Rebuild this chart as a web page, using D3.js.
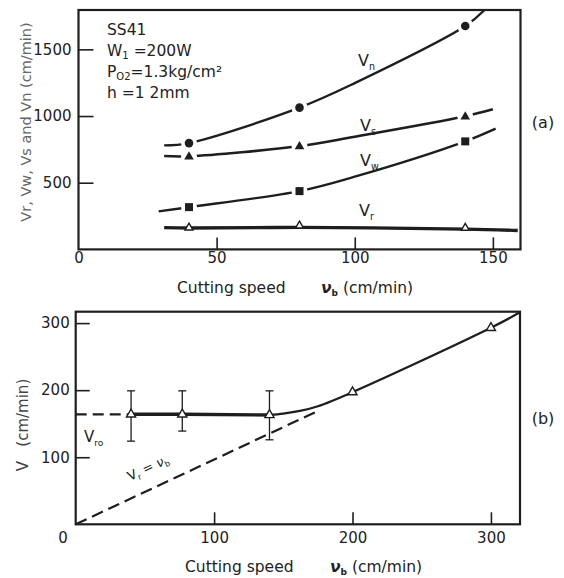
<!DOCTYPE html>
<html><head><meta charset="utf-8">
<script src="https://cdn.jsdelivr.net/npm/d3@7"></script>
<style>body{margin:0;background:#fff}svg{display:block}text{font-family:"DejaVu Sans",sans-serif;fill:#222}</style>
</head><body>
<svg id="c" width="564" height="578"></svg>
<script>
// ---- Panel (a) data ----
const topXTicks = [0, 50, 100, 150];
const topYTicks = [500, 1000, 1500];
const markX = [40, 80, 140];
const vnMarks = [797, 1063, 1675];
const vsMarks = [698, 775, 998];
const vwMarks = [317, 437, 810];
const vrMarks = [155, 170, 153];
const vnCurve = [[31,780],[40,797],[80,1063],[100,1247],[140,1675],[147,1795]];
const vsCurve = [[31,700],[40,698],[80,775],[100,845],[140,998],[150,1050]];
const vwCurve = [[29,285],[40,317],[80,437],[100,545],[140,810],[151,905]];
const vrCurve = [[31,163],[40,160],[80,165],[140,152],[159,142]];
// ---- Panel (b) data ----
const botXTicks = [100, 200, 300];
const botYTicks = [100, 200, 300];
const bX = [40, 77, 140, 200, 300];
const bY = [164, 164, 163, 197, 293];
const errX = [40, 77, 140];
const errHi = [199, 199, 199];
const errLo = [124, 139, 126];
const flatCurve = [[40,164],[77,164],[140,163]];
const riseCurve = [[140,163],[150,165],[162,169],[175,176],[200,197],[300,293],[321,316]];
const vr0Dash = [[0,164],[40,164]];
const diagDash = [[0,0],[176,170]];

const svg = d3.select("#c");
const ink = "#1e1e1e";

// scales
const x0 = d3.scaleLinear([0,160],[78.5,520.5]);
const y0 = d3.scaleLinear([0,1795],[249.4,10]);
const x1 = d3.scaleLinear([0,321],[75.7,520]);
const y1 = d3.scaleLinear([0,317],[524.3,311.7]);

function frame(x, y){
  svg.append("rect").attr("x",x.range()[0]).attr("y",y.range()[1])
    .attr("width",x.range()[1]-x.range()[0]).attr("height",y.range()[0]-y.range()[1])
    .attr("fill","none").attr("stroke",ink).attr("stroke-width",2.2);
}
function styleAxis(g){
  g.select(".domain").remove();
  g.selectAll("line").attr("stroke",ink).attr("stroke-width",1.6);
  g.selectAll("text").attr("font-size",15).attr("font-family","DejaVu Sans").attr("fill","#222");
}

// ---------- Panel (a) ----------
frame(x0,y0);
svg.append("g").attr("transform",`translate(0,${y0.range()[0]})`)
  .call(d3.axisBottom(x0).tickValues(topXTicks).tickSize(-12).tickPadding(3).tickFormat(d3.format("d")))
  .call(styleAxis).call(g=>g.selectAll(".tick").filter(d=>d===0).select("line").remove());
svg.append("g").attr("transform",`translate(${x0.range()[0]},0)`)
  .call(d3.axisLeft(y0).tickValues(topYTicks).tickSize(-15).tickPadding(7).tickFormat(d3.format("d")))
  .call(styleAxis);

const lineTop = d3.line().x(d=>x0(d[0])).y(d=>y0(d[1])).curve(d3.curveCatmullRom.alpha(0.5));
[[vnCurve,2.4],[vsCurve,2.6],[vwCurve,2.4],[vrCurve,3.4]].forEach(([c,w])=>{
  svg.append("path").attr("d",lineTop(c)).attr("fill","none").attr("stroke",ink).attr("stroke-width",w);
});
// gaps around markers
function halo(xs, ys, xs_, ys_, r){
  xs.forEach((v,i)=>svg.append("circle").attr("cx",xs_(v)).attr("cy",ys_(ys[i])).attr("r",r).attr("fill","#fff"));
}
halo(markX,vnMarks,x0,y0,8);
halo(markX,vsMarks,x0,y0,8);
halo(markX,vwMarks,x0,y0,8);
const tri = d3.symbol().type(d3.symbolTriangle);
markX.forEach((v,i)=>{
  svg.append("circle").attr("cx",x0(v)).attr("cy",y0(vnMarks[i])).attr("r",4.3).attr("fill",ink);
  svg.append("path").attr("d",tri.size(40)()).attr("transform",`translate(${x0(v)},${y0(vsMarks[i])+0.5})`).attr("fill",ink);
  svg.append("rect").attr("x",x0(v)-4).attr("y",y0(vwMarks[i])-4).attr("width",8).attr("height",8).attr("fill",ink);
  svg.append("path").attr("d",tri.size(28)()).attr("transform",`translate(${x0(v)},${y0(vrMarks[i])-1})`)
    .attr("fill","#fff").attr("stroke",ink).attr("stroke-width",1.4);
});

// series labels
function vlabel(x,y,main,sub,size){
  const t = svg.append("text").attr("x",x).attr("y",y).attr("font-size",size||16);
  t.append("tspan").text(main);
  t.append("tspan").attr("font-size",(size||16)*0.6).attr("dy",4).text(sub);
  return t;
}
vlabel(358,66,"V","n");
vlabel(360,131,"V","s");
vlabel(360,166,"V","w");
vlabel(359,216,"V","r");

// annotation
const ann = [["SS41"],["W","1"," =200W"],["P","O2","=1.3kg/cm²"],["h  =1 2mm"]];
ann.forEach((a,i)=>{
  const t = svg.append("text").attr("x",107).attr("y",35+i*21).attr("font-size",15.5);
  t.append("tspan").text(a[0]);
  if(a.length>1){
    t.append("tspan").attr("font-size",10).attr("dy",3).text(a[1]);
    t.append("tspan").attr("dy",-3).text(a[2]);
  }
});

svg.append("text").attr("x",543).attr("y",128).attr("text-anchor","middle").attr("font-size",16).text("(a)");
svg.append("text").attr("transform","translate(31,122) rotate(-90)").attr("text-anchor","middle")
  .attr("font-size",14.5).style("fill","#666").text("Vr, Vw, Vs and Vn (cm/min)");
function xtitle(y, x1s, x2s){
  svg.append("text").attr("x",x1s).attr("y",y).attr("font-size",15.5).text("Cutting speed");
  const t = svg.append("text").attr("x",x2s).attr("y",y).attr("font-size",15.5);
  t.append("tspan").attr("font-style","italic").attr("font-weight","bold").text("ν");
  t.append("tspan").attr("font-size",9).attr("dy",3).attr("font-weight","bold").text("b");
  t.append("tspan").attr("dy",-3).text(" (cm/min)");
}
xtitle(293,177,321);

// ---------- Panel (b) ----------
frame(x1,y1);
svg.append("g").attr("transform",`translate(0,${y1.range()[0]})`)
  .call(d3.axisBottom(x1).tickValues(botXTicks).tickSize(-12).tickPadding(8).tickFormat(d3.format("d")))
  .call(styleAxis);
svg.append("g").attr("transform",`translate(${x1.range()[0]},0)`)
  .call(d3.axisLeft(y1).tickValues(botYTicks).tickSize(-14).tickPadding(6).tickFormat(d3.format("d")))
  .call(styleAxis);
svg.append("text").attr("x",63).attr("y",543).attr("text-anchor","middle").attr("font-size",15).text("0");

const lineB = d3.line().x(d=>x1(d[0])).y(d=>y1(d[1]));
svg.append("path").attr("d",lineB(vr0Dash)).attr("fill","none").attr("stroke",ink)
  .attr("stroke-width",2.2).attr("stroke-dasharray","11,6");
svg.append("path").attr("d",lineB(diagDash)).attr("fill","none").attr("stroke",ink)
  .attr("stroke-width",2.2).attr("stroke-dasharray","12,6");
svg.append("path").attr("d",lineB(flatCurve)).attr("fill","none").attr("stroke",ink).attr("stroke-width",3.4);
svg.append("path").attr("d",lineB.curve(d3.curveCatmullRom.alpha(0.5))(riseCurve)).attr("fill","none")
  .attr("stroke",ink).attr("stroke-width",2.3);

errX.forEach((v,i)=>{
  const cx = x1(v);
  svg.append("line").attr("x1",cx).attr("x2",cx).attr("y1",y1(errHi[i])).attr("y2",y1(errLo[i]))
    .attr("stroke",ink).attr("stroke-width",1.3);
  [errHi[i],errLo[i]].forEach(e=>svg.append("line").attr("x1",cx-4).attr("x2",cx+4)
    .attr("y1",y1(e)).attr("y2",y1(e)).attr("stroke",ink).attr("stroke-width",1.3));
});
bX.forEach((v,i)=>{
  svg.append("path").attr("d",tri.size(36)()).attr("transform",`translate(${x1(v)},${y1(bY[i])})`)
    .attr("fill","#fff").attr("stroke",ink).attr("stroke-width",1.4);
});

vlabel(84,442,"V","ro",15);
const ang = -Math.atan2(y1(0)-y1(170), x1(176)-x1(0))*180/Math.PI;
const lab = svg.append("text").attr("transform",`translate(130,481) rotate(${ang})`).attr("font-size",13);
lab.append("tspan").text("V");
lab.append("tspan").attr("font-size",8).attr("dy",3).text("r");
lab.append("tspan").attr("dy",-3).text(" = ");
lab.append("tspan").attr("font-style","italic").text("ν");
lab.append("tspan").attr("font-size",8).attr("dy",3).text("b");

svg.append("text").attr("x",543).attr("y",424).attr("text-anchor","middle").attr("font-size",16).text("(b)");
svg.append("text").attr("transform","translate(28,425) rotate(-90)").attr("text-anchor","middle")
  .attr("font-size",15).style("fill","#444").attr("xml:space","preserve").text("V   (cm/min)");
xtitle(572,185,330);
</script>
</body></html>
